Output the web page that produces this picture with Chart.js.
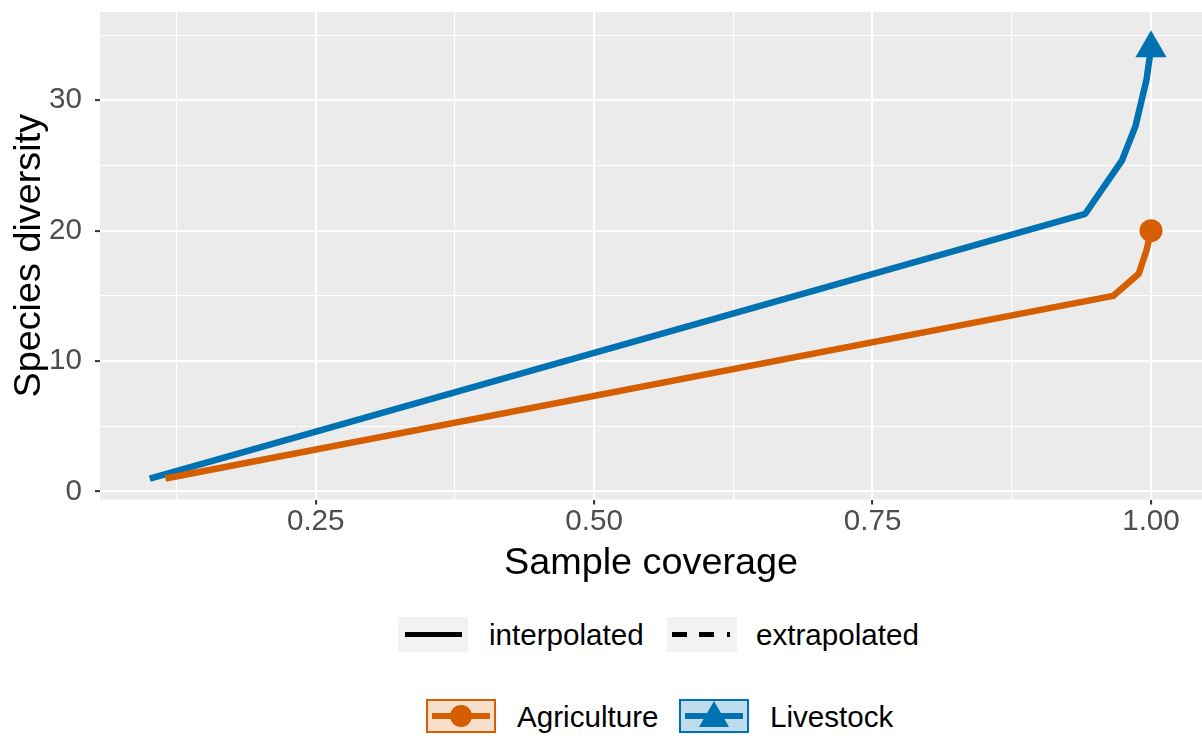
<!DOCTYPE html>
<html>
<head>
<meta charset="utf-8">
<title>Sample coverage</title>
<script src="https://cdn.jsdelivr.net/npm/chart.js@4.4.1/dist/chart.umd.min.js"></script>
<style>
  body {
    margin: 0;
    width: 1202px;
    height: 736px;
    background: #fff;
    position: relative;
    overflow: hidden;
    font-family: "Liberation Sans", Arial, sans-serif;
  }
  #wrap { position: absolute; left: 0; top: 0; width: 1202px; height: 600px; }
  .key { position: absolute; width: 70px; height: 35px; box-sizing: border-box; }
  .seg { position: absolute; }
  .lab {
    position: absolute;
    font-size: 29.6px;
    line-height: 29.6px;
    color: #000;
    white-space: nowrap;
  }
</style>
</head>
<body>
<div id="wrap"><canvas id="coverageChart" width="1202" height="600"></canvas></div>

<!-- line type legend -->
<div class="key" style="left:398px; top:617px; background:#f2f2f2;">
  <div class="seg" style="left:7px; top:15px; width:57px; height:5px; background:#000;"></div>
</div>
<div class="lab" style="left:489px; top:620px;">interpolated</div>
<div class="key" style="left:667px; top:617px; background:#f2f2f2;">
  <div class="seg" style="left:5px; top:15px; width:15px; height:5px; background:#000;"></div>
  <div class="seg" style="left:32px; top:15px; width:15px; height:5px; background:#000;"></div>
  <div class="seg" style="left:60px; top:15px; width:3px; height:5px; background:#000;"></div>
</div>
<div class="lab" style="left:756px; top:620px;">extrapolated</div>

<!-- assemblage legend -->
<div class="key" style="left:426px; top:699px; height:34px; border:2px solid #D55E00; background:rgba(213,94,0,0.2);">
  <div class="seg" style="left:4px; top:12px; width:58px; height:6px; background:#D55E00;"></div>
  <div class="seg" style="left:22px; top:4px; width:22px; height:22px; border-radius:50%; background:#D55E00;"></div>
</div>
<div class="lab" style="left:517px; top:702px;">Agriculture</div>
<div class="key" style="left:679px; top:699px; height:34px; border:2px solid #0072B2; background:rgba(0,114,178,0.25);">
  <div class="seg" style="left:4px; top:12px; width:58px; height:6px; background:#0072B2;"></div>
  <div class="seg" style="left:18px; top:0px; width:0; height:0; border-left:15px solid transparent; border-right:15px solid transparent; border-bottom:26px solid #0072B2;"></div>
</div>
<div class="lab" style="left:770px; top:702px;">Livestock</div>

<script>
// ================= DATA =================
const seriesNames = ["Agriculture", "Livestock"];

const agriCoverage = [0.115, 0.966, 0.989, 0.996, 1.0];
const agriDiversity = [1, 15.0, 16.7, 18.5, 20];

const liveCoverage = [0.101, 0.941, 0.974, 0.986, 0.996, 1.0];
const liveDiversity = [1, 21.3, 25.4, 28.0, 31.6, 34];

const xMajorTicks = [0.25, 0.5, 0.75, 1.0];
const xTickLabels = ["0.25", "0.50", "0.75", "1.00"];
const xMinorTicks = [0.125, 0.375, 0.625, 0.875];

const yMajorTicks = [0, 10, 20, 30];
const yTickLabels = ["0", "10", "20", "30"];
const yMinorTicks = [5, 15, 25, 35];

// ================= HELPERS =================
const FONT = '"Liberation Sans", Arial, sans-serif';

function toPoints(xs, ys) {
  return xs.map((x, i) => ({ x, y: ys[i] }));
}

function lastOnly(radius) {
  return ctx => (ctx.dataIndex === ctx.dataset.data.length - 1 ? radius : 0);
}

function setTicks(majors, minors) {
  return scale => {
    scale.ticks = [...majors, ...minors].sort((a, b) => a - b).map(v => ({ value: v }));
  };
}

function gridFor(majors) {
  const isMajor = ctx => ctx.tick && majors.includes(ctx.tick.value);
  return {
    color: "#ffffff",
    lineWidth: ctx => (isMajor(ctx) ? 2.2 : 1.1),
    tickColor: ctx => (isMajor(ctx) ? "#333333" : "rgba(0,0,0,0)"),
    tickWidth: 2,
    tickLength: 5,
    drawTicks: true,
  };
}

// grey panel behind the grid
const panelBg = {
  id: "panelBg",
  beforeDraw(chart) {
    const { ctx, chartArea: a } = chart;
    ctx.save();
    ctx.fillStyle = "#ebebeb";
    ctx.fillRect(a.left, a.top, a.right - a.left, a.bottom - a.top);
    ctx.restore();
  },
};

// ================= CHART =================
const ctx = document.getElementById("coverageChart").getContext("2d");

new Chart(ctx, {
  type: "line",
  data: {
    datasets: [
      {
        label: seriesNames[0],
        data: toPoints(agriCoverage, agriDiversity),
        borderColor: "#D55E00",
        backgroundColor: "#D55E00",
        borderWidth: 6.5,
        borderJoinStyle: "round",
        tension: 0,
        pointStyle: "circle",
        pointRadius: lastOnly(11.5),
        pointBorderWidth: 0,
        pointHoverRadius: 0,
      },
      {
        label: seriesNames[1],
        data: toPoints(liveCoverage, liveDiversity),
        borderColor: "#0072B2",
        backgroundColor: "#0072B2",
        borderWidth: 6.5,
        borderJoinStyle: "round",
        tension: 0,
        pointStyle: "triangle",
        pointRadius: lastOnly(18),
        pointBorderWidth: 0,
        pointHoverRadius: 0,
      },
    ],
  },
  options: {
    responsive: false,
    animation: false,
    devicePixelRatio: 1,
    layout: { autoPadding: false, padding: { top: 12, right: 0, bottom: 0, left: 0 } },
    plugins: {
      legend: { display: false },
      tooltip: { enabled: false },
    },
    scales: {
      x: {
        type: "linear",
        min: 0.0563,
        max: 1.0458,
        afterBuildTicks: setTicks(xMajorTicks, xMinorTicks),
        afterFit: s => {
          s.height = 100.5;
          s.paddingLeft = 0;
          s.paddingRight = 0;
        },
        border: { display: false },
        grid: gridFor(xMajorTicks),
        ticks: {
          autoSkip: false,
          maxRotation: 0,
          padding: 0,
          color: "#4d4d4d",
          font: { family: FONT, size: 29.6 },
          callback: v => {
            const i = xMajorTicks.indexOf(v);
            return i >= 0 ? xTickLabels[i] : "";
          },
        },
        title: {
          display: true,
          text: "Sample coverage",
          color: "#000",
          font: { family: FONT, size: 37.8 },
          padding: { top: 0, bottom: 13.5 },
        },
      },
      y: {
        type: "linear",
        min: -0.61,
        max: 36.77,
        afterBuildTicks: setTicks(yMajorTicks, yMinorTicks),
        afterFit: s => {
          s.width = 100;
          s.paddingTop = 0;
          s.paddingBottom = 0;
        },
        border: { display: false },
        grid: gridFor(yMajorTicks),
        ticks: {
          autoSkip: false,
          padding: 13,
          color: "#4d4d4d",
          font: { family: FONT, size: 29.6 },
          callback: v => {
            const i = yMajorTicks.indexOf(v);
            return i >= 0 ? yTickLabels[i] : "";
          },
        },
        title: {
          display: true,
          text: "Species diversity",
          color: "#000",
          font: { family: FONT, size: 37.8 },
          padding: { top: 6.5, bottom: 0 },
        },
      },
    },
  },
  plugins: [panelBg],
});
</script>
</body>
</html>
